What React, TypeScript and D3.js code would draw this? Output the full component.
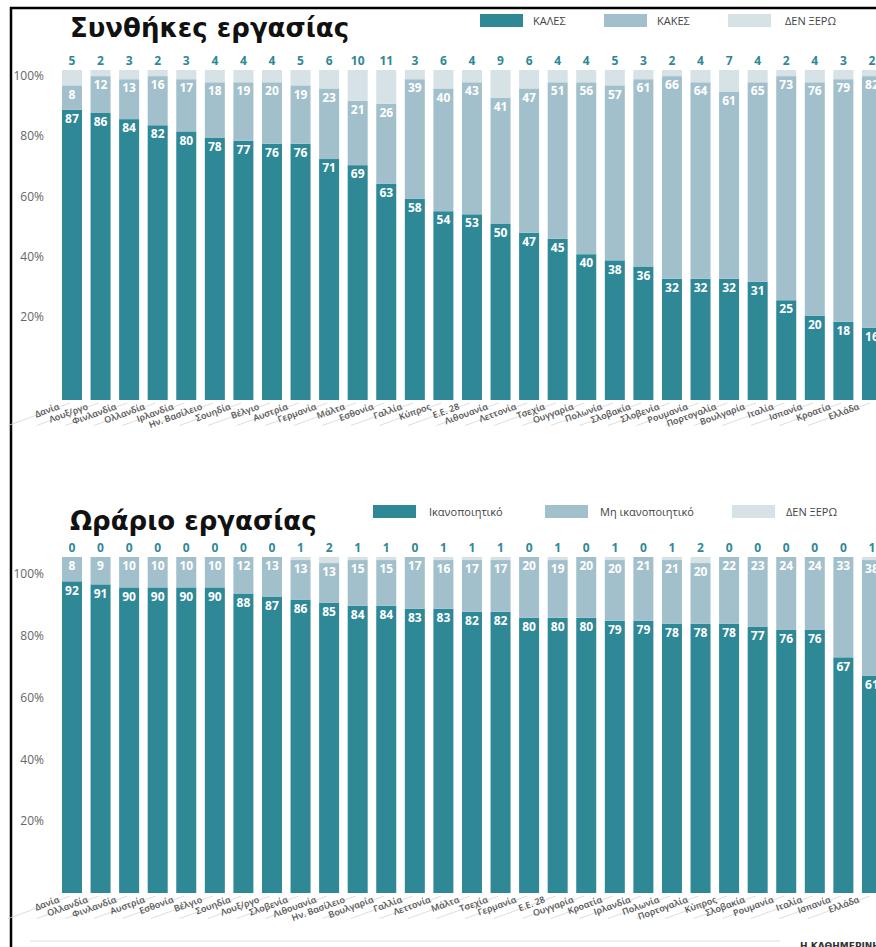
import * as d3 from "d3";

// --- data: Συνθήκες εργασίας ---
const workCountries = ["Δανία", "Λουξ/ργο", "Φινλανδία", "Ολλανδία", "Ιρλανδία", "Ην. Βασίλειο", "Σουηδία", "Βέλγιο", "Αυστρία", "Γερμανία", "Μάλτα", "Εσθονία", "Γαλλία", "Κύπρος", "Ε.Ε. 28", "Λιθουανία", "Λεττονία", "Τσεχία", "Ουγγαρία", "Πολωνία", "Σλοβακία", "Σλοβενία", "Ρουμανία", "Πορτογαλία", "Βουλγαρία", "Ιταλία", "Ισπανία", "Κροατία", "Ελλάδα"];
const workGood = [87, 86, 84, 82, 80, 78, 77, 76, 76, 71, 69, 63, 58, 54, 53, 50, 47, 45, 40, 38, 36, 32, 32, 32, 31, 25, 20, 18, 16];
const workBad = [8, 12, 13, 16, 17, 18, 19, 20, 19, 23, 21, 26, 39, 40, 43, 41, 47, 51, 56, 57, 61, 66, 64, 61, 65, 73, 76, 79, 82];
const workDk = [5, 2, 3, 2, 3, 4, 4, 4, 5, 6, 10, 11, 3, 6, 4, 9, 6, 4, 4, 5, 3, 2, 4, 7, 4, 2, 4, 3, 2];
const workLegend = ["ΚΑΛΕΣ", "ΚΑΚΕΣ", "ΔΕΝ ΞΕΡΩ"];

// --- data: Ωράριο εργασίας ---
const hoursCountries = ["Δανία", "Ολλανδία", "Φινλανδία", "Αυστρία", "Εσθονία", "Βέλγιο", "Σουηδία", "Λουξ/ργο", "Σλοβενία", "Λιθουανία", "Ην. Βασίλειο", "Βουλγαρία", "Γαλλία", "Λεττονία", "Μάλτα", "Τσεχία", "Γερμανία", "Ε.Ε. 28", "Ουγγαρία", "Κροατία", "Ιρλανδία", "Πολωνία", "Πορτογαλία", "Κύπρος", "Σλοβακία", "Ρουμανία", "Ιταλία", "Ισπανία", "Ελλάδα"];
const hoursOk = [92, 91, 90, 90, 90, 90, 88, 87, 86, 85, 84, 84, 83, 83, 82, 82, 80, 80, 80, 79, 79, 78, 78, 78, 77, 76, 76, 67, 61];
const hoursNotOk = [8, 9, 10, 10, 10, 10, 12, 13, 13, 13, 15, 15, 17, 16, 17, 17, 20, 19, 20, 20, 21, 21, 20, 22, 23, 24, 24, 33, 38];
const hoursDk = [0, 0, 0, 0, 0, 0, 0, 0, 1, 2, 1, 1, 0, 1, 1, 1, 0, 1, 0, 1, 0, 1, 2, 0, 0, 0, 0, 0, 1];
const hoursLegend = ["Ικανοποιητικό", "Μη ικανοποιητικό", "ΔΕΝ ΞΕΡΩ"];

const yTicks = [20, 40, 60, 80, 100];

const COLORS = ["#2f8896", "#a2c0cb", "#d6e2e6"];
const TEAL_TEXT = "#2f8896";
const W = 876;
const H = 947;

type PanelProps = {
    title: string,
    legend: string[],
    legendX: number[],
    legendTextX: number[],
    categories: string[],
    a: number[],
    b: number[],
    c: number[],
    top: number,        // y of the 100% bar top
    zero: number,       // y of 0%
    barBottom: number,
    tickTop: number,
    tickZero: number,
    titleY: number,
    legendY: number,
};

function Panel(p: PanelProps) {
    const x = d3.scaleBand<string>()
        .domain(p.categories)
        .range([57.7, 57.7 + 28.57 * 29])
        .paddingInner(0.3)
        .paddingOuter(0.15);
    const y = d3.scaleLinear().domain([0, 100]).range([p.zero, p.top]);
    const yt = d3.scaleLinear().domain([0, 100]).range([p.tickZero, p.tickTop]);

    const rows = p.categories.map((cat, i) => ({cat, a: p.a[i], b: p.b[i], c: p.c[i]}));
    const stacked = d3.stack<any>().keys(["a", "b", "c"])(rows);
    const bw = x.bandwidth();
    const angle = -20;
    const rad = angle * Math.PI / 180;

    return (
        <g>
            <text x={70} y={p.titleY} fontFamily="DejaVu Sans" fontWeight="bold" fontSize={26} fill="#111">{p.title}</text>
            {p.legend.map((name, i) => (
                <g key={name}>
                    <rect x={p.legendX[i]} y={p.legendY - 10} width={43} height={13} fill={COLORS[i]} />
                    <text x={p.legendTextX[i]} y={p.legendY + 1} fontFamily="Open Sans" fontSize={11} fill="#444">{name}</text>
                </g>
            ))}
            {yTicks.map(t => (
                <text key={t} x={44} y={yt(t)} dy="0.35em" textAnchor="end" fontFamily="Open Sans" fontSize={12} fill="#666">{t}%</text>
            ))}
            {stacked.map((series, k) => (
                <g key={series.key}>
                    {series.map((d, i) => {
                        const x0 = x(p.categories[i]) as number;
                        const y1 = y(d[1]);
                        const y0 = k === 0 ? p.barBottom : y(d[0]);
                        return <rect key={i} x={x0} y={y1} width={bw} height={Math.max(0, y0 - y1)} fill={COLORS[k]} />;
                    })}
                </g>
            ))}
            {rows.map((r, i) => {
                const cx = (x(r.cat) as number) + bw / 2;
                return (
                    <g key={r.cat} fontFamily="Open Sans" fontWeight="bold" fontSize={12} textAnchor="middle">
                        <text x={cx} y={y(r.a) + 9} dy="0.35em" fill="#fff">{r.a}</text>
                        <text x={cx} y={y(r.a + r.b) + 9} dy="0.35em" fill="#fff">{r.b}</text>
                        <text x={cx} y={y(100) - 9} dy="0.35em" fill={TEAL_TEXT}>{r.c}</text>
                    </g>
                );
            })}
            {p.categories.map(cat => {
                const cx = (x(cat) as number) + bw / 2;
                const lx = cx - 2;
                const ly = p.barBottom + 3;
                const len = 66;
                return (
                    <g key={cat}>
                        <line x1={lx} y1={ly} x2={lx - len * Math.cos(rad)} y2={ly - len * Math.sin(rad)} stroke="#d4d4d4" strokeWidth={0.8} />
                        <text transform={`translate(${cx - 12},${p.barBottom + 9}) rotate(${angle})`} textAnchor="end"
                              fontFamily="Open Sans" fontWeight={600} fontSize={9} fill="#555">{cat}</text>
                    </g>
                );
            })}
        </g>
    );
}

export default function App() {
    return (
        <svg width={W} height={H} style={{position: "absolute", left: 0, top: 0, background: "#fff"}}>
            <rect width={W} height={H} fill="#fff" />
            <line x1={10} y1={8} x2={W} y2={8} stroke="#000" strokeWidth={2.5} />
            <line x1={11} y1={7} x2={11} y2={H} stroke="#000" strokeWidth={2.5} />
            <Panel title="Συνθήκες εργασίας" legend={workLegend}
                   legendX={[480, 604, 728]} legendTextX={[533, 657, 785]}
                   categories={workCountries} a={workGood} b={workBad} c={workDk}
                   top={70} zero={377} barBottom={400} tickTop={76} tickZero={377}
                   titleY={37} legendY={24} />
            <Panel title="Ωράριο εργασίας" legend={hoursLegend}
                   legendX={[373, 545, 732]} legendTextX={[429, 600, 786]}
                   categories={hoursCountries} a={hoursOk} b={hoursNotOk} c={hoursDk}
                   top={557} zero={861} barBottom={893} tickTop={574} tickZero={883}
                   titleY={530} legendY={515} />
            <line x1={30} y1={941} x2={780} y2={941} stroke="#ddd" strokeWidth={1} />
            <text x={800} y={949} fontFamily="DejaVu Sans" fontWeight="bold" fontSize={9} fill="#333">Η ΚΑΘΗΜΕΡΙΝΗ</text>
        </svg>
    );
}
